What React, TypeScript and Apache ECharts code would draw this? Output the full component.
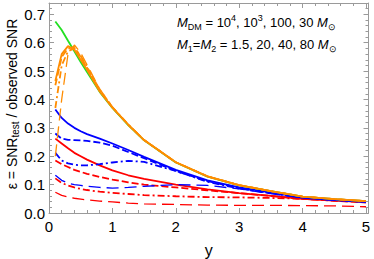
import React, { useEffect, useRef } from "react";
import * as echarts from "echarts";

const xs = [0.1, 0.2, 0.3, 0.4, 0.5, 0.6, 0.8, 1, 1.25, 1.5, 2, 2.5, 3, 3.5, 4, 4.5, 5];

const greenSolid = [0.675, 0.645, 0.607, 0.57, 0.532, 0.497, 0.427, 0.37, 0.31, 0.256, 0.178, 0.128, 0.097, 0.077, 0.058, 0.049, 0.042];

const orangeSolid = [0.465, 0.56, 0.588, 0.575, 0.54, 0.505, 0.428, 0.371, 0.311, 0.257, 0.179, 0.129, 0.098, 0.077, 0.058, 0.049, 0.042];
const orangeDashed = [0.45, 0.55, 0.58, 0.585, 0.55, 0.512, 0.432, 0.372, 0.311, 0.257, 0.179, 0.129, 0.098, 0.077, 0.058, 0.049, 0.042];
const orangeDotDash = [0.37, 0.52, 0.57, 0.58, 0.553, 0.515, 0.434, 0.373, 0.312, 0.257, 0.179, 0.129, 0.098, 0.077, 0.058, 0.049, 0.042];
const orangeLongDash = [0.2, 0.4, 0.56, 0.592, 0.565, 0.522, 0.437, 0.374, 0.312, 0.257, 0.179, 0.129, 0.098, 0.077, 0.058, 0.049, 0.042];

const blueSolid = [0.365, 0.335, 0.315, 0.3, 0.288, 0.278, 0.262, 0.245, 0.222, 0.198, 0.152, 0.115, 0.09, 0.072, 0.055, 0.047, 0.04];
const blueDashed = [0.28, 0.262, 0.258, 0.257, 0.256, 0.254, 0.248, 0.237, 0.215, 0.193, 0.148, 0.112, 0.088, 0.07, 0.054, 0.046, 0.039];
const blueDotDash = [0.212, 0.185, 0.175, 0.17, 0.168, 0.168, 0.172, 0.178, 0.184, 0.18, 0.148, 0.11, 0.086, 0.07, 0.054, 0.046, 0.039];
const blueLongDash = [0.133, 0.115, 0.105, 0.1, 0.097, 0.094, 0.09, 0.088, 0.09, 0.094, 0.1, 0.097, 0.085, 0.068, 0.053, 0.045, 0.039];

const redSolid = [0.262, 0.245, 0.228, 0.212, 0.2, 0.188, 0.168, 0.15, 0.133, 0.12, 0.1, 0.083, 0.07, 0.06, 0.05, 0.044, 0.038];
const redDashed = [0.185, 0.172, 0.162, 0.152, 0.145, 0.138, 0.127, 0.118, 0.108, 0.1, 0.09, 0.08, 0.07, 0.06, 0.05, 0.043, 0.037];
const redDotDash = [0.122, 0.106, 0.097, 0.09, 0.085, 0.081, 0.075, 0.071, 0.067, 0.063, 0.059, 0.056, 0.055, 0.053, 0.05, 0.045, 0.04];
const redLongDash = [0.073, 0.062, 0.056, 0.052, 0.049, 0.046, 0.042, 0.039, 0.035, 0.032, 0.03, 0.028, 0.027, 0.027, 0.026, 0.025, 0.022];

const xTickLabels = ["0", "1", "2", "3", "4", "5"];
const yTickLabels = ["0.0", "0.1", "0.2", "0.3", "0.4", "0.5", "0.6", "0.7"];

const FONT = "'Liberation Sans', Arial, sans-serif";
const FRAME = "#9a9a9a";

const DASH: Record<string, any> = {
  solid: "solid",
  dashed: [7, 3],
  dotdash: [7, 3, 2, 3],
  longdash: [12, 6],
};

function mk(name: string, ys: number[], color: string, dash: string, width = 1.8) {
  return {
    name,
    type: "line",
    data: xs.map((x, i) => [x, ys[i]]),
    showSymbol: false,
    symbol: "none",
    smooth: false,
    lineStyle: { color, width: dash === "longdash" ? 1.3 : width, type: DASH[dash] },
    z: 2,
  };
}

export default function App() {
  const ref = useRef<HTMLDivElement>(null);
  useEffect(() => {
    if (!ref.current) return;
    const chart = echarts.init(ref.current, undefined, { renderer: "svg" });
    const tickCommon = {
      axisLine: { show: true, onZero: false, lineStyle: { color: FRAME, width: 1 } },
      axisTick: { show: true, inside: true, length: 5, lineStyle: { color: FRAME } },
      minorTick: { show: true, splitNumber: 5, length: 3, lineStyle: { color: FRAME } },
      splitLine: { show: false },
      minorSplitLine: { show: false },
    };
    const xFmt = (v: number) => {
      const k = Math.round(v);
      return Math.abs(v - k) < 1e-6 && k >= 0 && k < xTickLabels.length ? xTickLabels[k] : "";
    };
    const yFmt = (v: number) => {
      const k = Math.round(v * 10);
      return Math.abs(v * 10 - k) < 1e-6 && k >= 0 && k < yTickLabels.length ? yTickLabels[k] : "";
    };
    const labelStyle = { color: "#000", fontSize: 15, fontFamily: FONT };
    chart.setOption({
      animation: false,
      backgroundColor: "#fff",
      grid: { left: 49, right: 5.5, top: 3, bottom: 46, containLabel: false, outerBoundsMode: "none" },
      xAxis: [
        {
          type: "value", min: 0, max: 5.04, interval: 1, position: "bottom",
          ...tickCommon,
          axisLabel: { ...labelStyle, margin: 6, formatter: xFmt, showMaxLabel: true },
          name: "y", nameLocation: "middle", nameGap: 29,
          nameTextStyle: { color: "#000", fontSize: 16, fontFamily: FONT },
        },
        {
          type: "value", min: 0, max: 5.04, interval: 1, position: "top",
          ...tickCommon,
          axisLabel: { show: false },
        },
      ],
      yAxis: [
        {
          type: "value", min: 0, max: 0.74, interval: 0.1, position: "left",
          ...tickCommon,
          axisLabel: { ...labelStyle, margin: 4, formatter: yFmt },
        },
        {
          type: "value", min: 0, max: 0.74, interval: 0.1, position: "right",
          ...tickCommon,
          axisLabel: { show: false },
        },
      ],
      graphic: [
        {
          type: "text", x: 12, y: 104, rotation: Math.PI / 2,
          style: {
            text: "ε = SNR{sub|test} / observed SNR",
            fontSize: 14, fontFamily: FONT, fill: "#000",
            align: "center", verticalAlign: "middle",
            lineHeight: 16,
            rich: {
              sub: { fontSize: 10, lineHeight: 9, verticalAlign: "bottom", fontFamily: FONT },
            },
          },
        },
        {
          type: "text", left: 177, top: 13,
          style: {
            text: "{i|M}{sub|DM} = 10{sup|4}, 10{sup|3}, 100, 30 {i|M}{sub|⊙}",
            fontSize: 13, fontFamily: FONT, fill: "#000",
            rich: {
              i: { fontSize: 13, fontStyle: "italic", lineHeight: 18, fontFamily: FONT },
              sub: { fontSize: 9, lineHeight: 8, verticalAlign: "bottom", fontFamily: FONT },
              sup: { fontSize: 9, lineHeight: 10, verticalAlign: "top", fontFamily: FONT },
            },
            lineHeight: 18,
          },
        },
        {
          type: "text", left: 177, top: 35,
          style: {
            text: "{i|M}{sub|1}={i|M}{sub|2} = 1.5, 20, 40, 80 {i|M}{sub|⊙}",
            fontSize: 13, fontFamily: FONT, fill: "#000",
            rich: {
              i: { fontSize: 13, fontStyle: "italic", lineHeight: 18, fontFamily: FONT },
              sub: { fontSize: 9, lineHeight: 8, verticalAlign: "bottom", fontFamily: FONT },
            },
            lineHeight: 18,
          },
        },
      ],
      series: [
        mk("red-long", redLongDash, "#ff0000", "longdash"),
        mk("red-dotdash", redDotDash, "#ff0000", "dotdash"),
        mk("red-dash", redDashed, "#ff0000", "dashed"),
        mk("red", redSolid, "#ff0000", "solid"),
        mk("blue-long", blueLongDash, "#0000ff", "longdash"),
        mk("blue-dotdash", blueDotDash, "#0000ff", "dotdash"),
        mk("blue-dash", blueDashed, "#0000ff", "dashed"),
        mk("blue", blueSolid, "#0000ff", "solid"),
        mk("green", greenSolid, "#22e022", "solid"),
        mk("orange-long", orangeLongDash, "#ff8c00", "longdash"),
        mk("orange-dotdash", orangeDotDash, "#ff8c00", "dotdash"),
        mk("orange-dash", orangeDashed, "#ff8c00", "dashed"),
        mk("orange", orangeSolid, "#ff8c00", "solid"),
      ],
    });
    return () => chart.dispose();
  }, []);
  return <div ref={ref} style={{ width: 374, height: 259, position: "absolute", left: 0, top: 0 }} />;
}
